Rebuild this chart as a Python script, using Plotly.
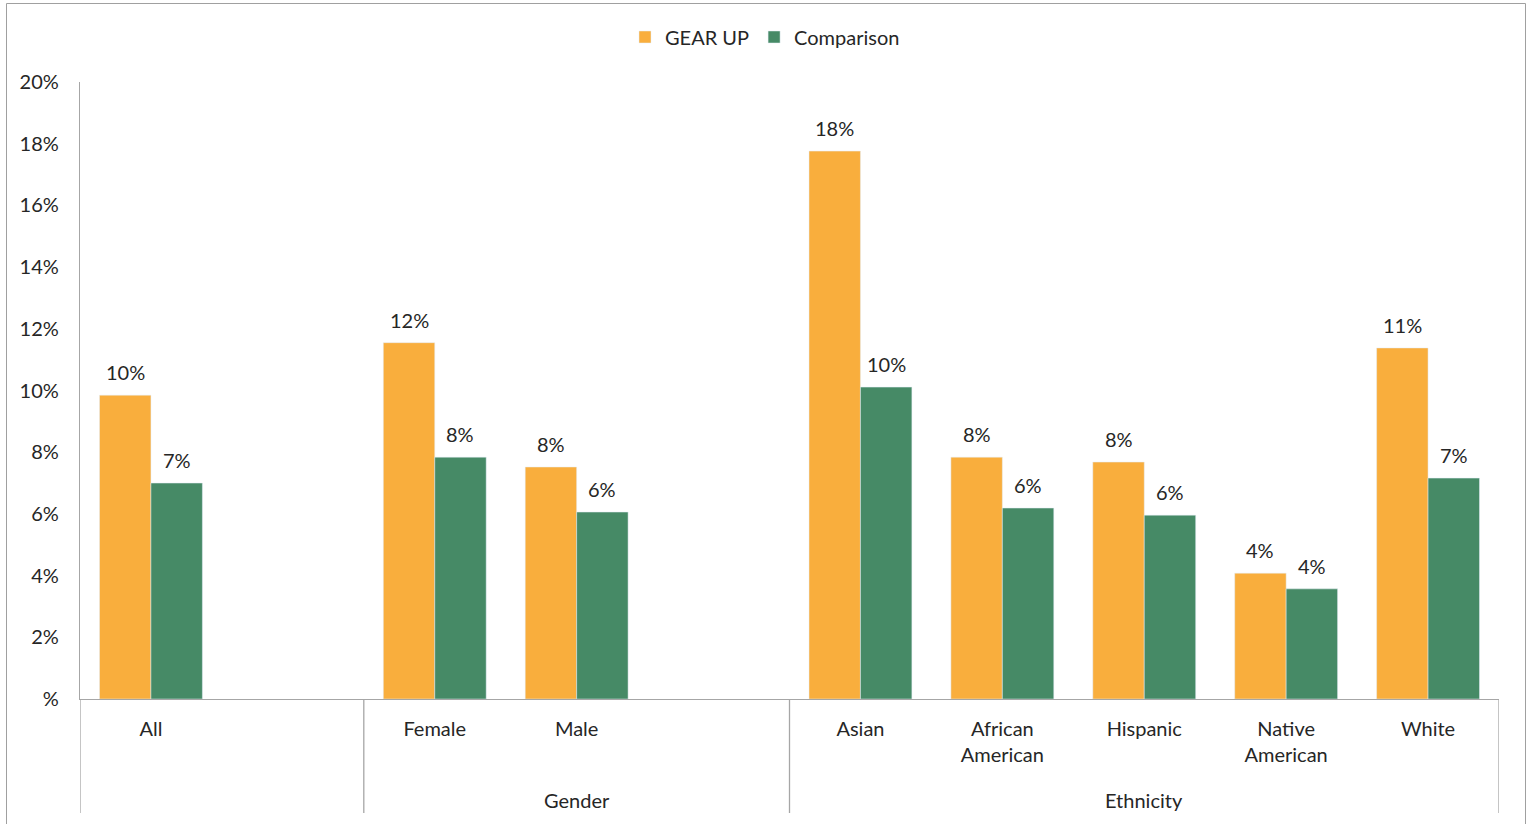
import plotly.graph_objects as go

# ---- data ----
categories = ["All", " ", "Female", "Male", "  ", "Asian", "African<br>American",
              "Hispanic", "Native<br>American", "White"]
bar_categories = ["All", "Female", "Male", "Asian", "African<br>American",
                  "Hispanic", "Native<br>American", "White"]
gear_up = [9.85, 11.55, 7.52, 17.76, 7.84, 7.68, 4.08, 11.38]
comparison = [7.0, 7.84, 6.06, 10.11, 6.19, 5.96, 3.57, 7.16]
series_names = ["GEAR UP", "Comparison"]
groups = ["Gender", "Ethnicity"]
group_centers = [3, 7]          # category index at centre of each group span
group_dividers = [-0.5, 1.5, 4.5, 9.5]
y_tickvals = [0, 2, 4, 6, 8, 10, 12, 14, 16, 18, 20]
y_ticktext = ["%", "2%", "4%", "6%", "8%", "10%", "12%", "14%", "16%", "18%", "20%"]

ORANGE = "#F9AE3D"
GREEN = "#468A66"
TEXT = "#262626"
AXIS = "#A6A6A6"
FONT = "Lato, 'Open Sans', sans-serif"
FS = 20
BARGAP = 0.275

W, H = 1530, 824
L, R, T, B = 80, 31, 82, 125
pw, ph = W - L - R, H - T - B

def px_to_paper_x(px):
    return (px - L) / pw

def px_to_paper_y(py):
    return (H - B - py) / ph

fig = go.Figure()
series = [gear_up, comparison]
colors = [ORANGE, GREEN]
for name, vals, col in zip(series_names, series, colors):
    fig.add_trace(go.Bar(name=name, x=bar_categories, y=vals, marker_color=col,
                         textposition="none"))

annotations = []
# data labels placed above each bar
half = (1 - BARGAP) / 2
for si, vals in enumerate(series):
    off = (si - 0.5) * half
    for c, v in zip(bar_categories, vals):
        annotations.append(dict(text=f"{v:.0f}%", x=categories.index(c) + off, xref="x",
                                y=v, yref="y", yshift=23, showarrow=False,
                                xanchor="center", yanchor="middle",
                                font=dict(size=FS, color=TEXT)))

for g, c in zip(groups, group_centers):
    annotations.append(dict(text=g, x=c, xref="x", y=px_to_paper_y(800), yref="paper",
                            showarrow=False, xanchor="center", yanchor="middle",
                            font=dict(size=FS, color=TEXT)))

shapes = []
# outer chart border
shapes.append(dict(type="rect", xref="paper", yref="paper",
                   x0=px_to_paper_x(6.5), x1=px_to_paper_x(1525.5),
                   y0=px_to_paper_y(840), y1=px_to_paper_y(3.5),
                   line=dict(color="#A0A0A0", width=1), fillcolor="rgba(0,0,0,0)", layer="below"))
# category group dividers below the axis
for d in group_dividers:
    shapes.append(dict(type="line", xref="x", yref="paper", x0=d, x1=d,
                       y0=0, y1=px_to_paper_y(813),
                       line=dict(color=AXIS, width=1.3)))

fig.update_layout(
    width=W, height=H,
    margin=dict(l=L, r=R, t=T, b=B),
    paper_bgcolor="white", plot_bgcolor="white",
    font=dict(family=FONT, size=FS, color=TEXT),
    barmode="group", bargap=BARGAP, bargroupgap=0,
    showlegend=True,
    legend=dict(orientation="h", xref="container", yref="container",
                x=0.5, xanchor="center", y=1 - 37 / H, yanchor="middle",
                font=dict(size=FS, color=TEXT), itemwidth=30, traceorder="normal"),
    shapes=shapes, annotations=annotations,
)
fig.update_xaxes(type="category", categoryorder="array", categoryarray=categories,
                 range=[-0.5, 9.5], showline=True, linecolor=AXIS, linewidth=1.3,
                 ticks="outside", ticklen=12, tickcolor="rgba(0,0,0,0)",
                 tickfont=dict(size=FS, color=TEXT), showgrid=False, zeroline=False)
fig.update_yaxes(range=[0, 20], tickvals=y_tickvals, ticktext=y_ticktext,
                 showline=True, linecolor=AXIS, linewidth=1.3, showgrid=False, zeroline=False,
                 ticks="outside", ticklen=16, tickcolor="rgba(0,0,0,0)",
                 tickfont=dict(size=FS, color=TEXT))

fig.write_html("out.html", config={"displayModeBar": False},
               post_script="document.body.style.margin='0';document.body.style.overflow='hidden';")
